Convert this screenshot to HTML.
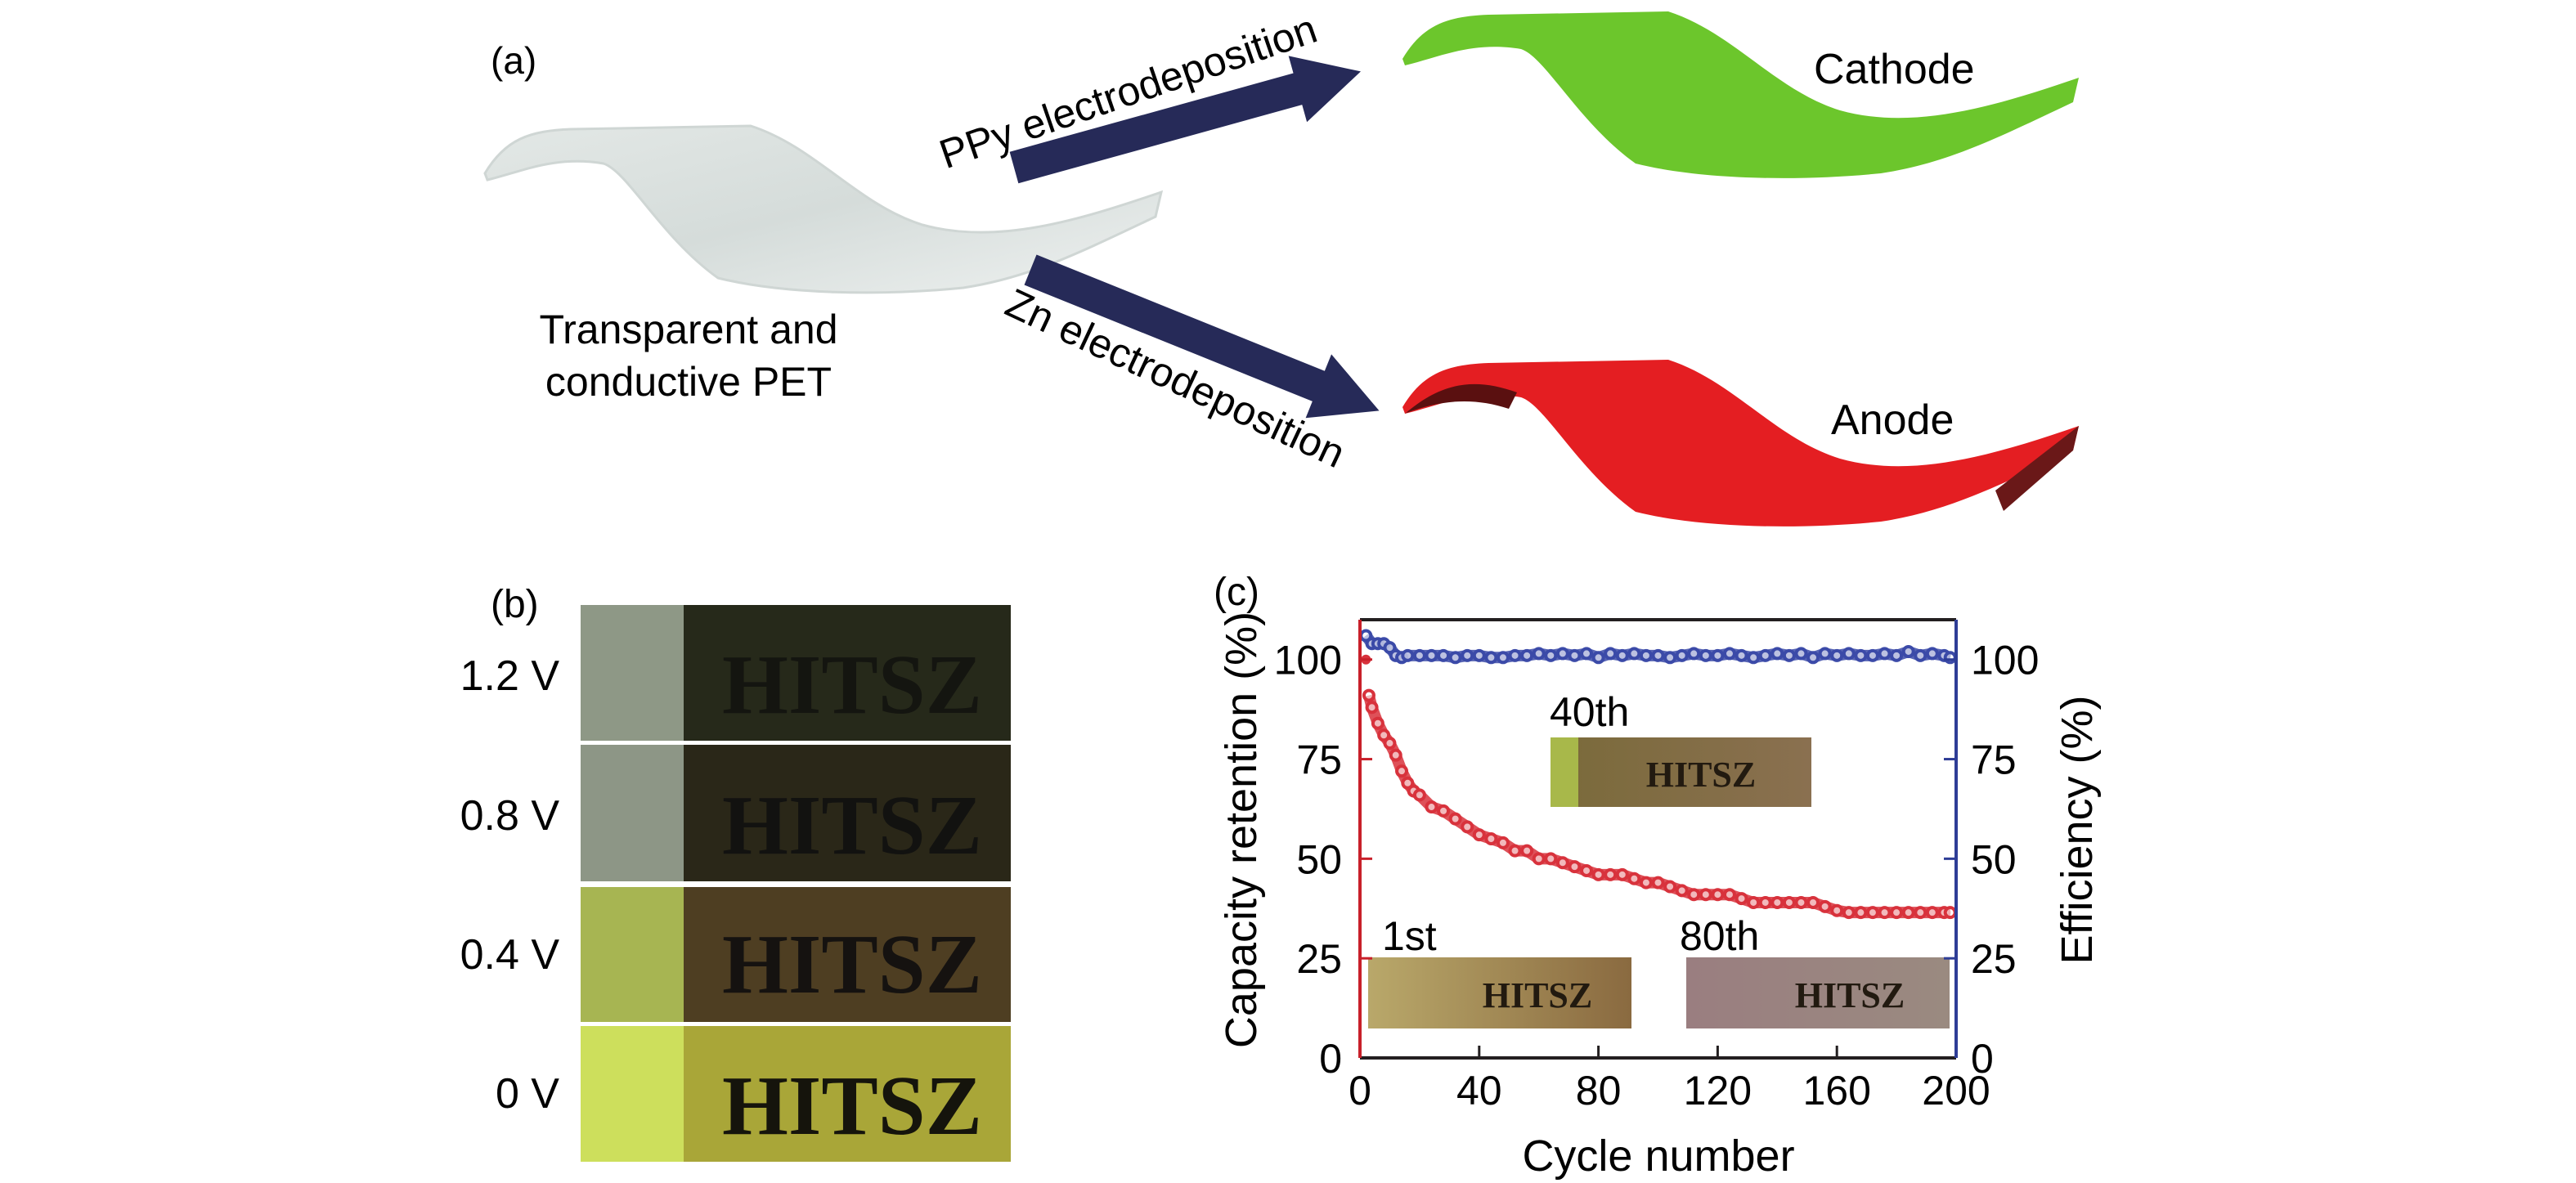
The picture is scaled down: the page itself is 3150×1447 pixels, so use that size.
<!DOCTYPE html>
<html><head><meta charset="utf-8"><style>
html,body{margin:0;padding:0;background:#fff;}
svg{display:block;font-family:"Liberation Sans",sans-serif;}
</style></head><body>
<svg id="fig" width="3150" height="1447" viewBox="0 0 3150 1447">
<defs>
<linearGradient id="gs" x1="0" y1="0" x2="1" y2="1"><stop offset="0" stop-color="#e3e8e6"/><stop offset="0.5" stop-color="#d5dcda"/><stop offset="1" stop-color="#eef1f0"/></linearGradient>
<linearGradient id="p1" x1="0" x2="1"><stop offset="0" stop-color="#b9a86a"/><stop offset="1" stop-color="#8a6a40"/></linearGradient>
<linearGradient id="p40" x1="0" x2="1"><stop offset="0" stop-color="#7a6a3a"/><stop offset="1" stop-color="#8a7050"/></linearGradient>
<linearGradient id="p80" x1="0" x2="1"><stop offset="0" stop-color="#9a7e80"/><stop offset="1" stop-color="#9a8a80"/></linearGradient>
</defs>

<!-- Panel (a) -->
<g>
<text x="600" y="90" font-size="46">(a)</text>
<path transform="translate(-1122,140)" d="M1715,72 C1740,30 1770,20 1820,18 L2040,14 C2120,40 2170,110 2250,135 C2340,160 2440,130 2542,95 L2535,125 C2440,170 2380,200 2300,212 C2200,222 2080,220 2000,200 C1930,150 1890,70 1860,60 C1800,50 1760,70 1718,80 Z" fill="url(#gs)" stroke="#cfd6d4" stroke-width="3"/>
<text x="842" y="420" font-size="50" text-anchor="middle">Transparent and</text>
<text x="842" y="484" font-size="50" text-anchor="middle">conductive PET</text>
<g transform="translate(1240,205) rotate(-15.5)">
<polygon points="0,-20 360,-20 360,-42 440,0 360,42 360,20 0,20" fill="#262a58"/></g>
<g transform="translate(1260,330) rotate(22)">
<polygon points="0,-20 380,-20 380,-42 460,0 380,42 380,20 0,20" fill="#262a58"/></g>
<text x="0" y="0" font-size="50" text-anchor="middle" transform="translate(1385,128) rotate(-19)">PPy electrodeposition</text>
<text x="0" y="0" font-size="50" text-anchor="middle" transform="translate(1430,478) rotate(25)">Zn electrodeposition</text>
<path d="M1715,72 C1740,30 1770,20 1820,18 L2040,14 C2120,40 2170,110 2250,135 C2340,160 2440,130 2542,95 L2535,125 C2440,170 2380,200 2300,212 C2200,222 2080,220 2000,200 C1930,150 1890,70 1860,60 C1800,50 1760,70 1718,80 Z" fill="#6cc62c"/>
<path d="M1715,498 C1740,456 1770,446 1820,444 L2040,440 C2120,466 2170,536 2250,561 C2340,586 2440,556 2542,521 L2535,551 C2440,596 2380,626 2300,638 C2200,648 2080,646 2000,626 C1930,576 1890,496 1860,486 C1800,476 1760,496 1718,506 Z" fill="#e41e22"/>
<path d="M1718,506 C1760,470 1800,460 1855,480 L1845,500 C1800,485 1760,490 1720,505 Z" fill="#5a1010"/>
<path d="M2440,600 L2542,521 L2535,551 L2450,625 Z" fill="#6a1818"/>
<text x="2218" y="102" font-size="52">Cathode</text>
<text x="2239" y="531" font-size="52">Anode</text>
</g>

<!-- Panel (b) -->
<g>
<text x="600" y="755" font-size="48">(b)</text>
<g>
<rect x="710" y="740" width="526" height="166" fill="#26291a"/><rect x="710" y="740" width="126" height="166" fill="#8e9886"/>
<text x="1042" y="872" font-size="104" font-weight="bold" font-family="Liberation Serif,serif" text-anchor="middle" fill="#141510">HITSZ</text></g>
<g>
<rect x="710" y="911" width="526" height="167" fill="#2a2718"/><rect x="710" y="911" width="126" height="167" fill="#8d9686"/>
<text x="1042" y="1044" font-size="104" font-weight="bold" font-family="Liberation Serif,serif" text-anchor="middle" fill="#121210">HITSZ</text></g>
<g>
<rect x="710" y="1085" width="526" height="165" fill="#4e3e22"/><rect x="710" y="1085" width="126" height="165" fill="#a7b552"/>
<text x="1042" y="1214" font-size="104" font-weight="bold" font-family="Liberation Serif,serif" text-anchor="middle" fill="#151210">HITSZ</text></g>
<g>
<rect x="710" y="1255" width="526" height="166" fill="#a9a638"/><rect x="710" y="1255" width="126" height="166" fill="#cddf5c"/>
<text x="1042" y="1387" font-size="104" font-weight="bold" font-family="Liberation Serif,serif" text-anchor="middle" fill="#15140c">HITSZ</text></g>
<text x="684" y="844" font-size="52" text-anchor="end">1.2 V</text>
<text x="684" y="1015" font-size="52" text-anchor="end">0.8 V</text>
<text x="684" y="1185" font-size="52" text-anchor="end">0.4 V</text>
<text x="684" y="1355" font-size="52" text-anchor="end">0 V</text>
</g>

<!-- Panel (c) -->
<g id="chart">
<text x="1484" y="740" font-size="48">(c)</text>
<g><rect x="1896" y="902" width="319" height="85" fill="url(#p40)"/><rect x="1896" y="902" width="34" height="85" fill="#a8b84a"/><text x="2080" y="962" font-size="44" font-weight="bold" font-family="Liberation Serif,serif" text-anchor="middle" fill="#221a10">HITSZ</text><text x="1895" y="888" font-size="50">40th</text></g>
<g><rect x="1673" y="1171" width="322" height="87" fill="url(#p1)"/><text x="1880" y="1232" font-size="44" font-weight="bold" font-family="Liberation Serif,serif" text-anchor="middle" fill="#221a10">HITSZ</text><text x="1690" y="1162" font-size="50">1st</text></g>
<g><rect x="2062" y="1171" width="322" height="87" fill="url(#p80)"/><text x="2262" y="1232" font-size="44" font-weight="bold" font-family="Liberation Serif,serif" text-anchor="middle" fill="#221a10">HITSZ</text><text x="2054" y="1162" font-size="50">80th</text></g>
</g>
</svg>
<script>
const xTicks=[0,40,80,120,160,200];
const yTicks=[0,25,50,75,100];
const capCycles=[2,3,4,6,8,10,12,14,16,18,20,24,28,32,36,40,44,48,52,56,60,64,68,72,76,80,84,88,92,96,100,104,108,112,116,120,124,128,132,136,140,144,148,152,156,160,164,168,172,176,180,184,188,192,196,198];
const capValues=[100,91,88,84,81,79,76,72,69,67,66,63,62,60,58,56,55,54,52,52,50,50,49,48,47,46,46,46,45,44,44,43,42,41,41,41,41,40,39,39,39,39,39,39,38,37,36.5,36.5,36.5,36.5,36.5,36.5,36.5,36.5,36.5,36.5];
const effCycles=[2,4,6,8,10,12,14,16,20,24,28,32,36,40,44,48,52,56,60,64,68,72,76,80,84,88,92,96,100,104,108,112,116,120,124,128,132,136,140,144,148,152,156,160,164,168,172,176,180,184,188,192,196,198];
const effValues=[106,104,104,104,103,101,100.5,101,101,101,101,100.5,101,101,100.5,100.5,101,101,101.5,101,101.5,101,101.5,100.5,101.5,101,101.5,101,101,100.5,101,101.5,101,101,101.5,101,100.5,101,101.5,101,101.5,100.5,101.5,101,101.5,101,101,101.5,101,102,101,101.5,101,100.5];
const NS='http://www.w3.org/2000/svg';
const X0=1663,X1=2392,YB=1294,YT=758;
function sx(v){return X0+(v/200)*(X1-X0);}
function sy(v){return YB-(v/110)*(YB-YT);}
const g=document.getElementById('chart');
function mk(tag,attrs,parent){const e=document.createElementNS(NS,tag);for(const k in attrs)e.setAttribute(k,attrs[k]);(parent||g).appendChild(e);return e;}
function series(xs,ys,color,name){
  const grp=mk('g',{});
  
  
  let d='';xs.forEach((x,i)=>{d+=(i?'L':'M')+sx(x)+','+sy(ys[i]);});
  const p=mk('path',{d:d,fill:'none',stroke:color,'stroke-width':14,'stroke-linejoin':'round','stroke-opacity':0.85},grp);
  
  
  xs.forEach((x,i)=>{const c=mk('circle',{cx:sx(x),cy:sy(ys[i]),r:6,fill:'#fff','fill-opacity':0.6,stroke:color,'stroke-width':4},grp);
    
    });
}
series(effCycles,effValues,'#3b4aa8','efficiency-series');
series(capCycles.slice(1),capValues.slice(1),'#d8323c','capacity-series');
const c0=mk('circle',{cx:sx(capCycles[0]),cy:sy(capValues[0]),r:6,fill:'#d8323c'});


const ax=[[X0,YT,X1,YT,'#231f20','top-axis'],[X0,YB,X1,YB,'#231f20','x-axis'],[X0,YT,X0,YB,'#c8202a','left-y-axis'],[X1,YT,X1,YB,'#2e3d96','right-y-axis']];
ax.forEach(a=>{const l=mk('line',{x1:a[0],y1:a[1],x2:a[2],y2:a[3],stroke:a[4],'stroke-width':4});
  
  });
xTicks.forEach(v=>{
  if(v>0&&v<200){const t=mk('line',{x1:sx(v),y1:YB,x2:sx(v),y2:YB-15,stroke:'#231f20','stroke-width':3});
  
  }
  const tx=mk('text',{x:sx(v),y:1351,'font-size':50,'text-anchor':'middle'});tx.textContent=v;
  
  
});
yTicks.forEach(v=>{
  if(v>0){const t=mk('line',{x1:X0,y1:sy(v),x2:X0+15,y2:sy(v),stroke:'#c8202a','stroke-width':3});
  
  
  const t2=mk('line',{x1:X1,y1:sy(v),x2:X1-15,y2:sy(v),stroke:'#2e3d96','stroke-width':3});
  
  }
  const a=mk('text',{x:1641,y:sy(v)+18,'font-size':50,'text-anchor':'end'});a.textContent=v;
  
  
  const b=mk('text',{x:2410,y:sy(v)+18,'font-size':50});b.textContent=v;
  
  
});
const yt=mk('text',{x:0,y:0,'font-size':54,'text-anchor':'middle',transform:'translate(1536,1015) rotate(-90)'});yt.textContent='Capacity retention (%)';


const yt2=mk('text',{x:0,y:0,'font-size':54,'text-anchor':'middle',transform:'translate(2558,1015) rotate(-90)'});yt2.textContent='Efficiency (%)';


const xt=mk('text',{x:2028,y:1432,'font-size':54,'text-anchor':'middle'});xt.textContent='Cycle number';


</script>
</body></html>
